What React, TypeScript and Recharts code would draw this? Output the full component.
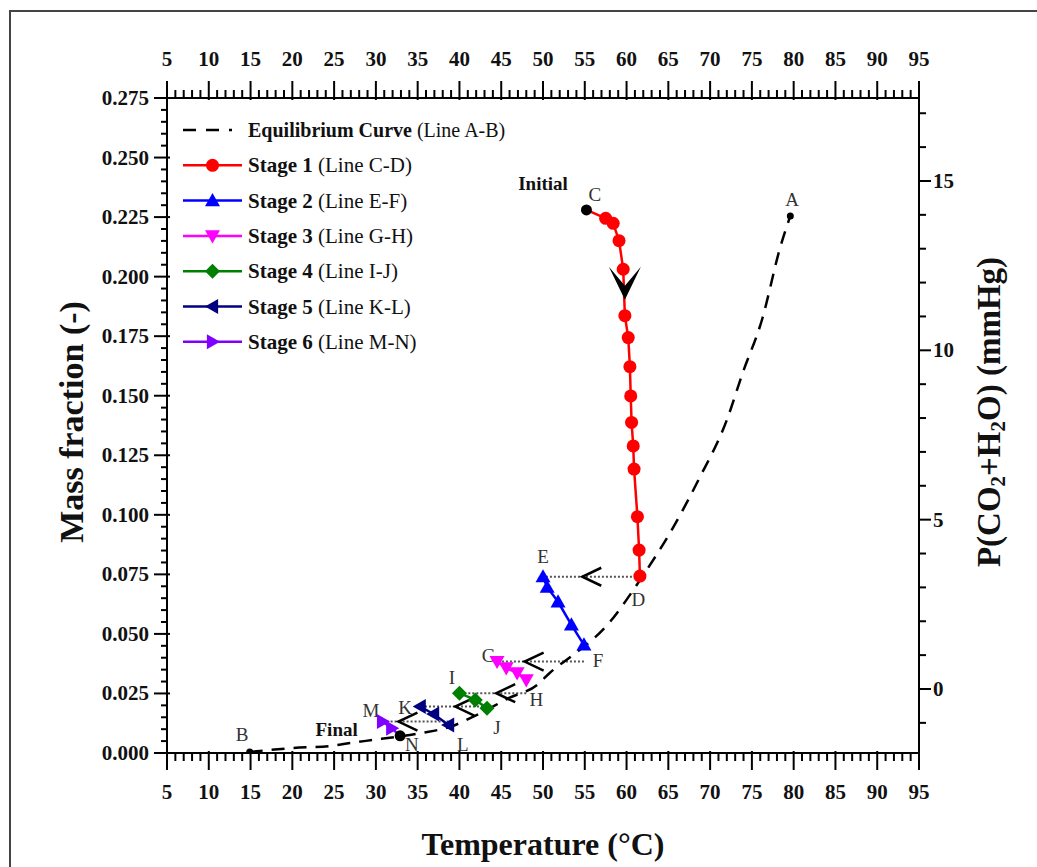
import React from 'react'
import { ComposedChart, Line, XAxis, YAxis, ReferenceLine, ReferenceDot, Legend, Label } from 'recharts'

// Dehumidification / regeneration path on the CO2 + H2O equilibrium diagram

const FONT = '"Liberation Serif", "Times New Roman", serif'

// equilibrium curve, B (cold end) -> A
const equilibriumT = [14.9, 17.3, 20.1, 24.5, 26.9, 29.7, 32.5, 35.6, 38.9, 42.1, 46.0, 49.3, 50.8, 53.6, 55.9, 58.0, 60.8, 62.4, 65.2, 68.6, 72.0, 73.9, 76.2, 78.4, 79.6]
const equilibriumW = [0.0004, 0.0013, 0.0021, 0.0029, 0.0042, 0.0055, 0.0068, 0.0085, 0.011, 0.016, 0.0232, 0.0286, 0.0336, 0.0412, 0.0475, 0.055, 0.0684, 0.0768, 0.0924, 0.1146, 0.1398, 0.1596, 0.1818, 0.2124, 0.2255]

// stages (temperature °C, mass fraction)
const stage1T = [55.2, 57.5, 58.4, 59.1, 59.6, 59.8, 60.2, 60.4, 60.5, 60.6, 60.8, 60.9, 61.3, 61.5, 61.6]
const stage1W = [0.228, 0.2245, 0.2224, 0.2151, 0.2031, 0.1836, 0.1744, 0.1622, 0.1499, 0.1388, 0.1289, 0.1192, 0.0992, 0.0852, 0.0743]
const stage2T = [50.0, 50.5, 51.8, 53.4, 54.9]
const stage2W = [0.074, 0.0696, 0.0635, 0.0538, 0.0454]
const stage3T = [44.5, 45.6, 46.9, 48.0]
const stage3W = [0.0384, 0.0357, 0.0336, 0.0307]
const stage4T = [40.0, 41.9, 43.3]
const stage4W = [0.0251, 0.0223, 0.0188]
const stage5T = [35.3, 36.9, 38.7]
const stage5W = [0.0195, 0.0164, 0.0118]
const stage6T = [30.8, 31.9, 32.9]
const stage6W = [0.0132, 0.0104, 0.0072]

const stageNames = ['Stage 1', 'Stage 2', 'Stage 3', 'Stage 4', 'Stage 5', 'Stage 6']
const stageLines = ['(Line C-D)', '(Line E-F)', '(Line G-H)', '(Line I-J)', '(Line K-L)', '(Line M-N)']
const stageColors = ['#ff0000', '#0000ff', '#ff00ff', '#008000', '#000080', '#8000ff']
const stageShapes = ['circle', 'triangle', 'triangleDown', 'diamond', 'triangleLeft', 'triangleRight']

// arrow tips along the dotted tie lines (temperature)
const tieArrowT = [54.7, 47.8, 44.4, 39.5, 32.7]

// point letters and notes, in data coordinates
const noteText = ['Initial', 'Final', 'A', 'B', 'C', 'D', 'E', 'F', 'G', 'H', 'I', 'J', 'K', 'L', 'M', 'N']
const noteT = [50.0, 25.3, 79.8, 14.0, 56.2, 61.4, 50.0, 56.6, 43.5, 49.2, 39.1, 44.5, 33.5, 40.4, 29.4, 34.3]
const noteW = [0.2393, 0.0097, 0.2322, 0.0076, 0.2343, 0.0643, 0.0823, 0.0387, 0.0411, 0.0223, 0.0319, 0.0109, 0.0189, 0.0037, 0.018, 0.0037]

const tempTicks = Array.from({ length: 91 }, (_, i) => 5 + i)
const massTicks = Array.from({ length: 56 }, (_, i) => +(i * 0.005).toFixed(3))
const pressureTicks = Array.from({ length: 19 }, (_, i) => i - 1)

const zip = (t: number[], w: number[]) => t.map((x, i) => ({ x, y: w[i] }))
const equilibrium = zip(equilibriumT, equilibriumW)
const stages = [zip(stage1T, stage1W), zip(stage2T, stage2W), zip(stage3T, stage3W), zip(stage4T, stage4W), zip(stage5T, stage5W), zip(stage6T, stage6W)]

function Marker({ cx, cy, shape, color, s = 7.5 }: any) {
  if (cx == null || cy == null) return null
  switch (shape) {
    case 'circle':
      return <circle cx={cx} cy={cy} r={s * 0.87} fill={color} />
    case 'triangle':
      return <polygon points={`${cx},${cy - s} ${cx - s},${cy + s * 0.75} ${cx + s},${cy + s * 0.75}`} fill={color} />
    case 'triangleDown':
      return <polygon points={`${cx},${cy + s} ${cx - s},${cy - s * 0.75} ${cx + s},${cy - s * 0.75}`} fill={color} />
    case 'triangleLeft':
      return <polygon points={`${cx - s},${cy} ${cx + s * 0.75},${cy - s} ${cx + s * 0.75},${cy + s}`} fill={color} />
    case 'triangleRight':
      return <polygon points={`${cx + s},${cy} ${cx - s * 0.75},${cy - s} ${cx - s * 0.75},${cy + s}`} fill={color} />
    case 'diamond':
      return <polygon points={`${cx},${cy - s} ${cx + s},${cy} ${cx},${cy + s} ${cx - s},${cy}`} fill={color} />
    default:
      return null
  }
}

const labelStyle = { fontFamily: FONT, fontWeight: 'bold' as const, fontSize: 21, fill: '#111' }

function TempTick({ x, y, payload, orientation }: any) {
  const v = payload.value
  const major = v % 5 === 0
  const dir = orientation === 'top' ? -1 : 1
  return (
    <g>
      <line x1={x} x2={x} y1={y - dir * (major ? 2 : 0)} y2={y + dir * (major ? 17 : 8)} stroke="#000" strokeWidth={2} />
      {major && (
        <text x={x} y={y + dir * 39} textAnchor="middle" dominantBaseline="central" style={labelStyle}>{v}</text>
      )}
    </g>
  )
}

function MassTick({ x, y, payload }: any) {
  const v = payload.value
  const major = Math.round(v * 1000) % 25 === 0
  return (
    <g>
      <line x1={x - (major ? 13 : 6)} x2={x + (major ? 3 : 0)} y1={y} y2={y} stroke="#000" strokeWidth={2} />
      {major && (
        <text x={x - 18} y={y} textAnchor="end" dominantBaseline="central" style={labelStyle}>{v.toFixed(3)}</text>
      )}
    </g>
  )
}

function PressureTick({ x, y, payload }: any) {
  const v = payload.value
  const major = v % 5 === 0
  return (
    <g>
      <line x1={x} x2={x + (major ? 12 : 7)} y1={y} y2={y} stroke="#000" strokeWidth={2} />
      {major && (
        <text x={x + 14} y={y} textAnchor="start" dominantBaseline="central" style={labelStyle}>{v}</text>
      )}
    </g>
  )
}

function LegendBox() {
  const rowY = (i: number) => 18 + i * 35.3
  const textStyle = { fontFamily: FONT, fontSize: 21, fill: '#111' }
  return (
    <svg width={340} height={260} style={{ display: 'block' }}>
      <line x1={5} x2={64} y1={rowY(0)} y2={rowY(0)} stroke="#000" strokeWidth={2.5} strokeDasharray="13 10 13 10 3 20" />
      <text x={70} y={rowY(0)} dominantBaseline="central" style={{ ...textStyle, fontSize: 20 }}>
        <tspan fontWeight="bold">Equilibrium Curve</tspan> (Line A-B)
      </text>
      {stageNames.map((n, i) => (
        <g key={n}>
          <line x1={5} x2={64} y1={rowY(i + 1)} y2={rowY(i + 1)} stroke={stageColors[i]} strokeWidth={2.5} />
          <Marker cx={34.5} cy={rowY(i + 1)} shape={stageShapes[i]} color={stageColors[i]} />
          <text x={70} y={rowY(i + 1)} dominantBaseline="central" style={textStyle}>
            <tspan fontWeight="bold">{n}</tspan> {stageLines[i]}
          </text>
        </g>
      ))}
    </svg>
  )
}

const titleStyle = { fontFamily: FONT, fontWeight: 'bold' as const, fontSize: 32, fill: '#111' }

export default function App() {
  return (
    <>
      <style>{'html, body { overflow: hidden; }'}</style>
      <div style={{ position: 'absolute', left: 8, top: 8, width: 1029, height: 859, overflow: 'hidden', background: '#fff' }}>
        <div style={{ position: 'absolute', left: 1, top: 2, width: 1100, height: 900, borderLeft: '2px solid #444', borderTop: '2px solid #444' }} />
        <ComposedChart width={1029} height={859} margin={{ top: 40, right: 38, bottom: 64, left: 59 }}>
          <XAxis xAxisId="bottom" dataKey="x" type="number" orientation="bottom" domain={[5, 95]} ticks={tempTicks} interval={0}
            allowDataOverflow height={50} tickSize={0} tickMargin={0} tick={<TempTick orientation="bottom" />}
            axisLine={{ stroke: '#000', strokeWidth: 2 }} tickLine={false}>
            <Label content={({ viewBox }: any) => (
              <text x={viewBox.x + viewBox.width / 2} y={viewBox.y + 91} textAnchor="middle" dominantBaseline="central" style={titleStyle}>
                Temperature (°C)
              </text>
            )} />
          </XAxis>
          <XAxis xAxisId="top" dataKey="x" type="number" orientation="top" domain={[5, 95]} ticks={tempTicks} interval={0}
            allowDataOverflow height={50} tickSize={0} tickMargin={0} tick={<TempTick orientation="top" />}
            axisLine={{ stroke: '#000', strokeWidth: 2 }} tickLine={false} />
          <YAxis yAxisId="left" type="number" orientation="left" domain={[0, 0.275]} ticks={massTicks} interval={0}
            allowDataOverflow width={100} tickSize={0} tickMargin={0} tick={<MassTick />}
            axisLine={{ stroke: '#000', strokeWidth: 2 }} tickLine={false}>
            <Label content={({ viewBox }: any) => {
              const cx = viewBox.x + 4
              const cy = viewBox.y + 324
              return (
                <text transform={`translate(${cx},${cy}) rotate(-90)`} textAnchor="middle" dominantBaseline="central" style={{ ...titleStyle, fontSize: 34 }}>
                  Mass fraction (-)
                </text>
              )
            }} />
          </YAxis>
          <YAxis yAxisId="right" type="number" orientation="right" domain={[-1.89, 17.45]} ticks={pressureTicks} interval={0}
            allowDataOverflow width={80} tickSize={0} tickMargin={0} tick={<PressureTick />}
            axisLine={{ stroke: '#000', strokeWidth: 2 }} tickLine={false}>
            <Label content={({ viewBox }: any) => {
              const cx = viewBox.x + 70
              const cy = viewBox.y + 314
              return (
                <text transform={`translate(${cx},${cy}) rotate(-90)`} textAnchor="middle" dominantBaseline="central" style={{ ...titleStyle, fontSize: 33 }}>
                  P(CO<tspan fontSize={21} dy={9}>2</tspan><tspan dy={-9}>+H</tspan><tspan fontSize={21} dy={9}>2</tspan><tspan dy={-9}>O) (mmHg)</tspan>
                </text>
              )
            }} />
          </YAxis>

          {/* dotted tie lines between consecutive stages */}
          {stages.slice(1).map((s, i) => {
            const prev = stages[i]
            const end = prev[prev.length - 1]
            return (
              <ReferenceLine key={`tie-${i}`} xAxisId="bottom" yAxisId="left"
                segment={[{ x: end.x, y: s[0].y }, { x: s[0].x, y: s[0].y }]}
                stroke="#555" strokeWidth={2} strokeDasharray="2 2" />
            )
          })}

          <Line xAxisId="bottom" yAxisId="left" data={equilibrium} dataKey="y" type="monotone" stroke="#000" strokeWidth={2.5}
            strokeDasharray="13 9" isAnimationActive={false} activeDot={false} legendType="none"
            dot={(p: any) => (p.index === 0 || p.index === equilibrium.length - 1)
              ? <circle key={`eq-${p.index}`} cx={p.cx} cy={p.cy} r={3.5} fill="#000" />
              : <g key={`eq-${p.index}`} />} />

          {stages.map((s, k) => (
            <Line key={stageNames[k]} xAxisId="bottom" yAxisId="left" data={s} dataKey="y" type="linear"
              stroke={stageColors[k]} strokeWidth={2.5} isAnimationActive={false} activeDot={false} legendType="none"
              dot={(p: any) => {
                const black = (k === 0 && p.index === 0) || (k === 5 && p.index === s.length - 1)
                return black
                  ? <circle key={`d-${k}-${p.index}`} cx={p.cx} cy={p.cy} r={5.5} fill="#000" />
                  : <Marker key={`d-${k}-${p.index}`} cx={p.cx} cy={p.cy} shape={stageShapes[k]} color={stageColors[k]} />
              }} />
          ))}

          {/* direction arrow on stage 1 */}
          <ReferenceDot xAxisId="bottom" yAxisId="left" x={59.8} y={0.197} r={0}
            shape={(p: any) => (
              <path d={`M ${p.cx - 16} ${p.cy - 17} L ${p.cx} ${p.cy + 16} L ${p.cx + 16} ${p.cy - 17} L ${p.cx} ${p.cy + 2} Z`} fill="#000" />
            )} />

          {/* arrows on the tie lines */}
          {tieArrowT.map((t, i) => (
            <ReferenceDot key={`arr-${i}`} xAxisId="bottom" yAxisId="left" x={t} y={stages[i + 1][0].y} r={0}
              shape={(p: any) => (
                <polyline points={`${p.cx + 19},${p.cy - 9} ${p.cx},${p.cy} ${p.cx + 19},${p.cy + 9}`} fill="none" stroke="#000" strokeWidth={2.5} />
              )} />
          ))}

          {noteText.map((n, i) => (
            <ReferenceDot key={`note-${n}`} xAxisId="bottom" yAxisId="left" x={noteT[i]} y={noteW[i]} r={0}
              shape={(p: any) => (
                <text x={p.cx} y={p.cy} textAnchor="middle" dominantBaseline="central"
                  style={{ fontFamily: FONT, fontSize: 19, fontWeight: i < 2 ? 'bold' : 'normal', fill: i < 2 ? '#111' : '#333' }}>
                  {n}
                </text>
              )} />
          ))}

          <Legend layout="vertical" align="center" verticalAlign="middle" content={() => <LegendBox />}
            wrapperStyle={{ left: 170, top: 104, width: 340, height: 260 }} />
        </ComposedChart>
      </div>
    </>
  )
}
